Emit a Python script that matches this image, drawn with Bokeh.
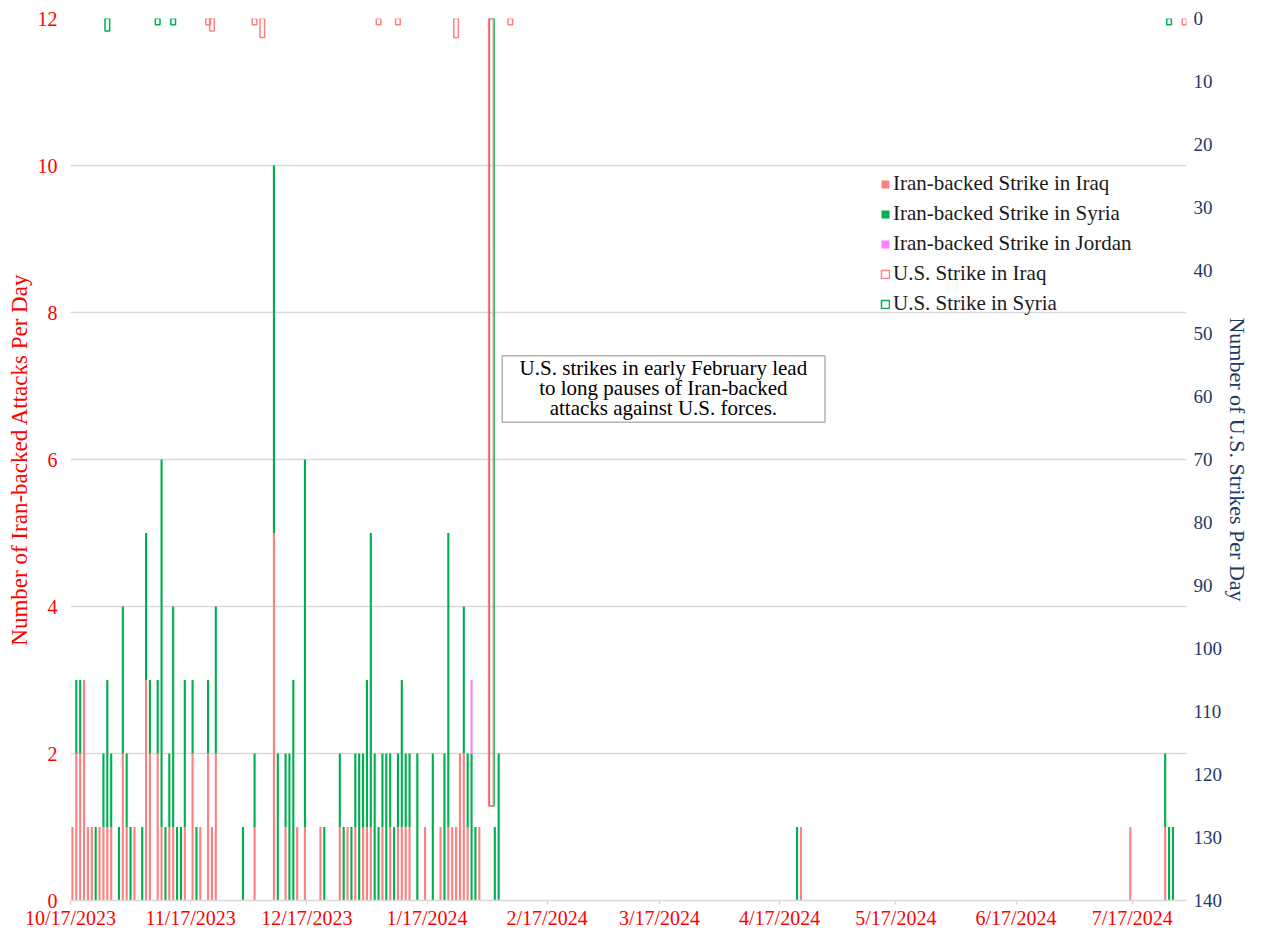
import pandas as pd
from bokeh.plotting import figure
from bokeh.models import (Range1d, LinearAxis, FixedTicker, Legend, LegendItem,
                          Label, ColumnDataSource, BoxAnnotation)
from bokeh.embed import file_html
from bokeh.resources import INLINE

# ---------------- data ----------------
START = "2023-10-17"
N_DAYS = 288  # 10/17/2023 .. 7/30/2024

attack_dates = [
    "2023-10-17", "2023-10-18", "2023-10-19", "2023-10-20", "2023-10-21", "2023-10-22",
    "2023-10-23", "2023-10-24", "2023-10-25", "2023-10-26", "2023-10-27", "2023-10-29",
    "2023-10-30", "2023-10-31", "2023-11-01", "2023-11-02", "2023-11-04", "2023-11-05",
    "2023-11-06", "2023-11-08", "2023-11-09", "2023-11-10", "2023-11-11", "2023-11-12",
    "2023-11-13", "2023-11-14", "2023-11-15", "2023-11-17", "2023-11-18", "2023-11-19",
    "2023-11-21", "2023-11-22", "2023-11-23", "2023-11-30", "2023-12-03", "2023-12-08",
    "2023-12-09", "2023-12-11", "2023-12-12", "2023-12-13", "2023-12-14", "2023-12-16",
    "2023-12-20", "2023-12-21", "2023-12-25", "2023-12-26", "2023-12-27", "2023-12-28",
    "2023-12-29", "2023-12-30", "2023-12-31", "2024-01-01", "2024-01-02", "2024-01-03",
    "2024-01-04", "2024-01-05", "2024-01-06", "2024-01-07", "2024-01-08", "2024-01-09",
    "2024-01-10", "2024-01-11", "2024-01-12", "2024-01-14", "2024-01-16", "2024-01-18",
    "2024-01-20", "2024-01-21", "2024-01-22", "2024-01-23", "2024-01-24", "2024-01-25",
    "2024-01-26", "2024-01-27", "2024-01-28", "2024-01-29", "2024-01-30", "2024-02-03",
    "2024-02-04", "2024-04-21", "2024-04-22", "2024-07-16", "2024-07-25", "2024-07-26",
    "2024-07-27",
]
attacks_iraq = [
    1, 2, 2, 3, 1, 1, 0, 1, 1, 1, 1, 0,
    2, 1, 0, 1, 0, 3, 2, 2, 1, 0, 1, 1,
    0, 0, 1, 2, 0, 1, 2, 1, 2, 0, 1, 5,
    0, 1, 0, 0, 1, 1, 1, 0, 1, 0, 1, 0,
    1, 0, 1, 1, 1, 0, 0, 1, 0, 1, 0, 1,
    1, 1, 1, 0, 1, 0, 1, 0, 1, 1, 1, 2,
    2, 1, 0, 0, 1, 0, 0, 0, 1, 1, 1, 0,
    0,
]
attacks_syria = [
    0, 1, 1, 0, 0, 0, 1, 0, 1, 2, 1, 1,
    2, 1, 1, 0, 1, 2, 1, 1, 5, 1, 1, 3,
    1, 1, 2, 1, 1, 0, 1, 0, 2, 1, 1, 5,
    2, 1, 2, 3, 0, 5, 0, 1, 1, 1, 0, 1,
    1, 2, 1, 2, 4, 2, 1, 1, 2, 1, 1, 1,
    2, 1, 1, 2, 0, 2, 0, 2, 4, 0, 0, 0,
    2, 1, 2, 1, 0, 1, 2, 1, 0, 0, 1, 1,
    1,
]
attacks_jordan = [0] * 74 + [1] + [0] * 10

us_iraq_dates = ["2023-11-21", "2023-11-22", "2023-12-03", "2023-12-05", "2024-01-04",
                 "2024-01-09", "2024-01-24", "2024-02-02", "2024-02-07", "2024-07-30"]
us_iraq_counts = [1, 2, 1, 3, 1, 1, 3, 125, 1, 1]
us_syria_dates = ["2023-10-26", "2023-11-08", "2023-11-12", "2024-02-02", "2024-07-26"]
us_syria_counts = [2, 1, 1, 125, 1]

tick_dates = ["2023-10-17", "2023-11-17", "2023-12-17", "2024-01-17", "2024-02-17",
              "2024-03-17", "2024-04-17", "2024-05-17", "2024-06-17", "2024-07-17"]
tick_labels = ["10/17/2023", "11/17/2023", "12/17/2023", "1/17/2024", "2/17/2024",
               "3/17/2024", "4/17/2024", "5/17/2024", "6/17/2024", "7/17/2024"]

left_ticks = [0, 2, 4, 6, 8, 10, 12]
right_ticks = list(range(0, 141, 10))

note_lines = ["U.S. strikes in early February lead",
              "to long pauses of Iran-backed",
              "attacks against U.S. forces."]

# ---------------- helpers ----------------
t0 = pd.Timestamp(START)


def day(s):
    return (pd.Timestamp(s) - t0).days


FONT = "Liberation Serif"
RED = "#FF0000"
NAVY = "#1F3864"
C_IRAQ = "#FF8080"
C_SYRIA = "#00B050"
C_JORDAN = "#FF80FF"
GRID = "#D9D9D9"

p = figure(width=1253, height=931, x_range=Range1d(0, N_DAYS), y_range=Range1d(0, 12),
           output_backend="svg", toolbar_location=None,
           min_border_left=70, min_border_right=60, min_border_top=18, min_border_bottom=29)
p.extra_y_ranges = {"us": Range1d(start=140, end=0)}
p.outline_line_color = None
p.background_fill_color = "white"

# grid
p.xgrid.grid_line_color = None
p.ygrid.ticker = FixedTicker(ticks=left_ticks)
p.ygrid.grid_line_color = GRID
p.ygrid.grid_line_width = 1.5

# x axis
xa = p.xaxis[0]
xa.ticker = FixedTicker(ticks=[day(d) for d in tick_dates])
xa.major_label_overrides = {day(d): l for d, l in zip(tick_dates, tick_labels)}
xa.axis_line_color = GRID
xa.axis_line_width = 1.5
xa.major_tick_line_color = GRID
xa.major_tick_line_width = 1.5
xa.major_tick_out = 4
xa.major_tick_in = 0
xa.minor_tick_line_color = None
xa.minor_tick_out = 0
xa.major_label_standoff = 2
xa.major_label_text_color = RED
xa.major_label_text_font = FONT
xa.major_label_text_font_size = "20px"

# left y axis
ya = p.yaxis[0]
ya.ticker = FixedTicker(ticks=left_ticks)
ya.axis_line_color = None
ya.major_tick_line_color = None
ya.minor_tick_line_color = None
ya.major_tick_out = 0
ya.minor_tick_out = 0
ya.major_label_standoff = 13
ya.major_label_text_color = RED
ya.major_label_text_font = FONT
ya.major_label_text_font_size = "20px"
ya.axis_label = "Number of Iran-backed Attacks Per Day"
ya.axis_label_text_color = RED
ya.axis_label_text_font = FONT
ya.axis_label_text_font_size = "23px"
ya.axis_label_text_font_style = "normal"
ya.axis_label_standoff = 3

# right y axis
ra = LinearAxis(y_range_name="us", ticker=FixedTicker(ticks=right_ticks))
ra.axis_line_color = None
ra.major_tick_line_color = None
ra.minor_tick_line_color = None
ra.major_tick_out = 0
ra.minor_tick_out = 0
ra.major_label_standoff = 7
ra.major_label_text_color = NAVY
ra.major_label_text_font = FONT
ra.major_label_text_font_size = "19px"
ra.axis_label = "Number of U.S. Strikes Per Day"
ra.axis_label_text_color = NAVY
ra.axis_label_text_font = FONT
ra.axis_label_text_font_size = "22px"
ra.axis_label_text_font_style = "normal"
ra.axis_label_standoff = 0
p.add_layout(ra, "right")

# Iran-backed attacks (stacked)
src = ColumnDataSource(dict(
    x=[day(d) + 0.5 for d in attack_dates],
    iraq=attacks_iraq, syria=attacks_syria, jordan=attacks_jordan,
))
stack = p.vbar_stack(["iraq", "syria", "jordan"], x="x", width=0.55, source=src,
                     fill_color=[C_IRAQ, C_SYRIA, C_JORDAN], line_color=None)

# U.S. strikes (hanging from the top on the inverted right axis)
us_syria = p.vbar(x=[day(d) + 0.5 + (0.2 if c > 50 else 0) for d, c in zip(us_syria_dates, us_syria_counts)],
                  top=[0] * len(us_syria_counts), bottom=us_syria_counts, width=1.2,
                  fill_color=None, line_color=C_SYRIA, line_width=1.5, y_range_name="us")
us_iraq = p.vbar(x=[day(d) + 0.5 for d in us_iraq_dates],
                 top=[0] * len(us_iraq_counts), bottom=us_iraq_counts, width=1.2,
                 fill_color=None, line_color=C_IRAQ, line_width=1.5, y_range_name="us")

legend = Legend(items=[
    LegendItem(label="Iran-backed Strike in Iraq", renderers=[stack[0]]),
    LegendItem(label="Iran-backed Strike in Syria", renderers=[stack[1]]),
    LegendItem(label="Iran-backed Strike in Jordan", renderers=[stack[2]]),
    LegendItem(label="U.S. Strike in Iraq", renderers=[us_iraq]),
    LegendItem(label="U.S. Strike in Syria", renderers=[us_syria]),
], location=(810, 584))
legend.background_fill_alpha = 0
legend.border_line_color = None
legend.padding = 0
legend.margin = 0
legend.spacing = 5
legend.label_height = 21
legend.glyph_height = 10
legend.glyph_width = 10
legend.label_standoff = 3
legend.label_text_font = FONT
legend.label_text_font_size = "21px"
legend.label_text_color = "#1a1a1a"
p.add_layout(legend)

# annotation box
box = BoxAnnotation(left=111.4, right=194.7, bottom=6.507, top=7.413,
                    fill_color="white", fill_alpha=1, line_color="black", line_width=1.5)
p.add_layout(box)
for i, line in enumerate(note_lines):
    p.add_layout(Label(x=153, y=7.24 - 0.267 * i, text=line,
                       text_align="center", text_baseline="middle", text_font=FONT,
                       text_font_size="21px", text_color="black"))

open("out.html", "w").write(file_html(p, INLINE))
